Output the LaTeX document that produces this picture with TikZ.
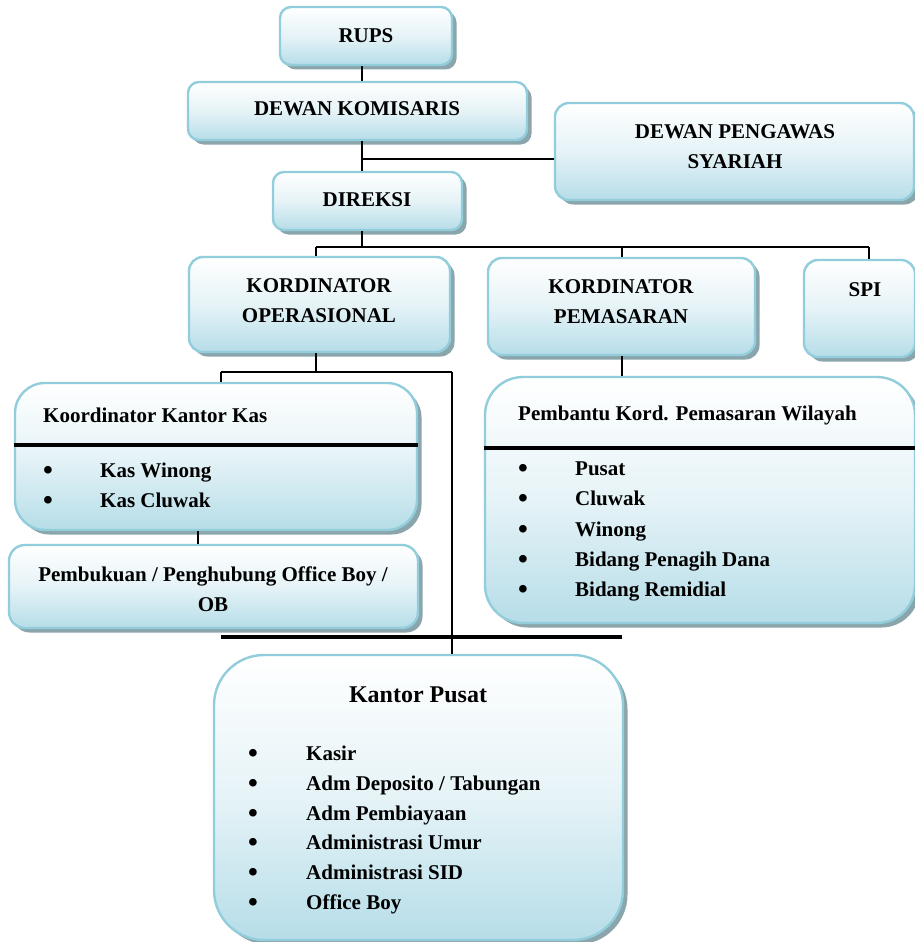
\documentclass[tikz,border=0pt]{standalone}
\usepackage{fontspec}
\setmainfont{Liberation Serif}
\usetikzlibrary{shadows,calc}
\definecolor{bord}{RGB}{146,205,220}
\definecolor{lblue}{RGB}{182,221,232}
\definecolor{shad}{RGB}{138,165,172}
\tikzset{
  orgbox/.style={draw=bord, line width=2.4pt, top color=white, bottom color=lblue,
    middle color={lblue!35!white}, rounded corners=#1, inner sep=0pt,
    drop shadow={shadow xshift=4.5pt, shadow yshift=-4.5pt, fill=shad, opacity=1}},
  orgbox/.default=11pt,
  txt/.style={font=\fontsize{21}{30}\selectfont\bfseries, inner sep=0pt, text=black},
  ltxt/.style={txt, anchor=base west},
  btxt/.style={txt, anchor=base, font=\fontsize{28}{30}\selectfont\bfseries},
  conn/.style={draw=black, line width=1.8pt},
  sep/.style={draw=black, line width=3.5pt},
}
\newcommand{\boxat}[6][11pt]{%
  \node[orgbox=#1, minimum width={#4-#2}, minimum height={#5-#3}] (#6) at ({(#2+#4)/2},{(#3+#5)/2}) {};}
\begin{document}
\begin{tikzpicture}[x=1pt,y=-1pt]
\useasboundingbox[fill=white] (0,0) rectangle (915,942);
% boxes
\boxat{280}{7}{452}{65}{rups}
\boxat{188}{82}{527}{140}{dk}
\boxat{273}{172}{462}{230}{direksi}
\boxat[14pt]{555}{103}{914}{200}{dps}
\boxat[14pt]{189}{257}{450}{352}{ko}
\boxat[14pt]{488}{258}{755}{355}{kp}
\boxat[14pt]{804}{260}{915}{357}{spi}
\boxat[30pt]{15}{383}{417}{530}{kkk}
\boxat[16pt]{9}{545}{418}{628}{pemb}
\boxat[38pt]{485}{377}{915}{623}{pkpw}
\boxat[50pt]{214}{655}{623}{940}{kpusat}
% separators inside boxes
\draw[sep] (kkk.west |- 0,445) -- (kkk.east |- 0,445);
\draw[sep] (pkpw.west |- 0,448) -- (pkpw.east |- 0,448);
% coordinates
\coordinate (trunk) at (362,159);
\coordinate (bus) at (362,247);
\coordinate (bko) at (316,247);
\coordinate (bkp) at (622,247);
\coordinate (bspi) at (869,247);
\coordinate (obus) at (316,372);
\coordinate (okk) at (221,372);
\coordinate (okp) at (452,372);
\coordinate (tl) at (221,637);
\coordinate (tr) at (622,637);
% connectors
\draw[conn] (rups.south -| trunk) -- (dk.north -| trunk);
\draw[conn] (dk.south -| trunk) -- (direksi.north -| trunk);
\draw[conn] (trunk) -- (trunk -| dps.west);
\draw[conn] (direksi.south -| bus) -- (bus);
\draw[conn] (bko) -- (bspi);
\draw[conn] (bko) -- (bko |- ko.north);
\draw[conn] (bkp) -- (bkp |- kp.north);
\draw[conn] (bspi) -- (bspi |- spi.north);
\draw[conn] (ko.south -| obus) -- (obus);
\draw[conn] (okk) -- (okp);
\draw[conn] (okk) -- (okk |- kkk.north);
\draw[conn] (okp) -- (okp |- kpusat.north);
\draw[conn] (kkk.south -| 198,0) -- (pemb.north -| 198,0);
\draw[conn] (kp.south -| bkp) -- (pkpw.north -| bkp);
\draw[black, line width=4pt] (tl) -- (tr);
% texts
\node[txt] (t1) at (366,36) {RUPS};
\node[txt] (t2) at (357,109) {DEWAN KOMISARIS};
\node[txt] (t3) at (367,200) {DIREKSI};
\node[txt, align=center] (t4) at (735,147) {DEWAN PENGAWAS\\SYARIAH};
\node[txt, align=center] (t5) at (319,301) {KORDINATOR\\OPERASIONAL};
\node[txt, align=center] (t6) at (621,302) {KORDINATOR\\PEMASARAN};
\node[txt] (t7) at (865,290) {SPI};
\node[ltxt] (t8) at (43,422) {Koordinator Kantor Kas};
\foreach \y/\s [count=\i] in {477/{Kas Winong}, 507/{Kas Cluwak}}{
  \node[btxt] (kb\i) at (48,\y+2) {\textbullet};
  \node[ltxt] (ki\i) at (100,\y) {\s};
}
\node[txt, align=center] (t9) at (213,589) {Pembukuan / Penghubung Office Boy /\\OB};
\node[ltxt] (t10) at (518,420) {Pembantu Kord. Pemasaran Wilayah};
\foreach \y/\s [count=\i] in {475/{Pusat}, 505/{Cluwak}, 536/{Winong}, 566/{Bidang Penagih Dana}, 596/{Bidang Remidial}}{
  \node[btxt] (pb\i) at (523,\y+2) {\textbullet};
  \node[ltxt] (pi\i) at (575,\y) {\s};
}
\node[txt, font=\fontsize{24}{30}\selectfont\bfseries] (t11) at (418,695) {Kantor Pusat};
\foreach \y/\s [count=\i] in {760/{Kasir}, 790/{Adm Deposito / Tabungan}, 820/{Adm Pembiayaan}, 849/{Administrasi Umur}, 879/{Administrasi SID}, 909/{Office Boy}}{
  \node[btxt] (ub\i) at (253,\y+2) {\textbullet};
  \node[ltxt] (ui\i) at (306,\y) {\s};
}
\end{tikzpicture}
\end{document}
